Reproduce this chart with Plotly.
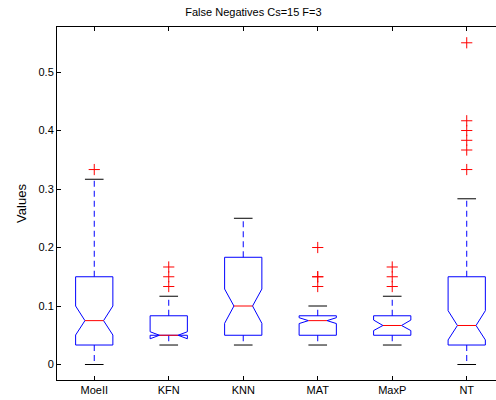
import plotly.graph_objects as go

names = ["MoeII", "KFN", "KNN", "MAT", "MaxP", "NT"]
q1 = [0.0333, 0.05, 0.05, 0.05, 0.05, 0.0333]
med = [0.075, 0.05, 0.10, 0.075, 0.0667, 0.0667]
q3 = [0.15, 0.0833, 0.1833, 0.0833, 0.0833, 0.15]
notch_lo = [0.0504, 0.044, 0.0704, 0.070, 0.058, 0.042]
notch_hi = [0.10, 0.056, 0.129, 0.080, 0.076, 0.092]
whisk_lo = [0.0, 0.0333, 0.0333, 0.0333, 0.0333, 0.0]
whisk_hi = [0.3167, 0.1167, 0.25, 0.10, 0.1167, 0.2833]
outliers = [
    [0.3333],
    [0.1333, 0.15, 0.1667],
    [],
    [0.1333, 0.15, 0.15, 0.20],
    [0.1333, 0.15, 0.1667],
    [0.3333, 0.3667, 0.3833, 0.40, 0.4167, 0.55],
]

BLUE = "#0000ff"
RED = "#ff0000"
HW = 0.25   # box half width
NW = 0.125  # notch half width
CW = 0.125  # cap half width

fig = go.Figure()
for i, nm in enumerate(names):
    x = i + 1
    l, r = x - HW, x + HW
    nl, nr = x - NW, x + NW
    # whiskers (dashed)
    fig.add_trace(go.Scatter(x=[x, x, None, x, x], y=[q3[i], whisk_hi[i], None, q1[i], whisk_lo[i]],
                             mode="lines", line=dict(color=BLUE, width=1, dash="6px,4px"),
                             hoverinfo="skip", showlegend=False))
    # caps
    fig.add_trace(go.Scatter(x=[x - CW, x + CW, None, x - CW, x + CW],
                             y=[whisk_hi[i], whisk_hi[i], None, whisk_lo[i], whisk_lo[i]],
                             mode="lines", line=dict(color="black", width=1),
                             hoverinfo="skip", showlegend=False))
    # notched box
    bx = [l, l, nl, l, l, r, r, nr, r, r, l]
    by = [q1[i], notch_lo[i], med[i], notch_hi[i], q3[i], q3[i], notch_hi[i], med[i], notch_lo[i], q1[i], q1[i]]
    fig.add_trace(go.Scatter(x=bx, y=by, mode="lines", line=dict(color=BLUE, width=1),
                             hoverinfo="skip", showlegend=False))
    # median
    fig.add_trace(go.Scatter(x=[nl, nr], y=[med[i], med[i]], mode="lines",
                             line=dict(color=RED, width=1), hoverinfo="skip", showlegend=False))
    # outliers
    if outliers[i]:
        fig.add_trace(go.Scatter(x=[x] * len(outliers[i]), y=outliers[i], mode="markers",
                                 marker=dict(symbol="cross-thin", size=8, line=dict(color=RED, width=1)),
                                 showlegend=False))

fig.update_layout(
    width=496, height=400,
    margin=dict(l=57, r=0, t=27, b=20),
    paper_bgcolor="white", plot_bgcolor="white",
    font=dict(family="Liberation Sans, Arial, sans-serif", size=11, color="black"),
    title=dict(text="False Negatives Cs=15 F=3", x=0.511, xanchor="center", y=1 - 12 / 400,
               yanchor="middle", font=dict(size=11)),
    xaxis=dict(range=[0.5, 6.393], tickvals=list(range(1, 7)), ticktext=names,
               showline=True, linecolor="black", linewidth=1, mirror="ticks",
               ticks="inside", ticklen=4, tickcolor="black", showgrid=False, zeroline=False),
    yaxis=dict(range=[-0.0265, 0.577], tickvals=[0, 0.1, 0.2, 0.3, 0.4, 0.5],
               ticktext=["0", "0.1", "0.2", "0.3", "0.4", "0.5"],
               showline=True, linecolor="black", linewidth=1, mirror=False,
               ticks="inside", ticklen=4, tickcolor="black", showgrid=False, zeroline=False,
               title=dict(text="Values", standoff=8)),
)

fig.write_html("out.html")
